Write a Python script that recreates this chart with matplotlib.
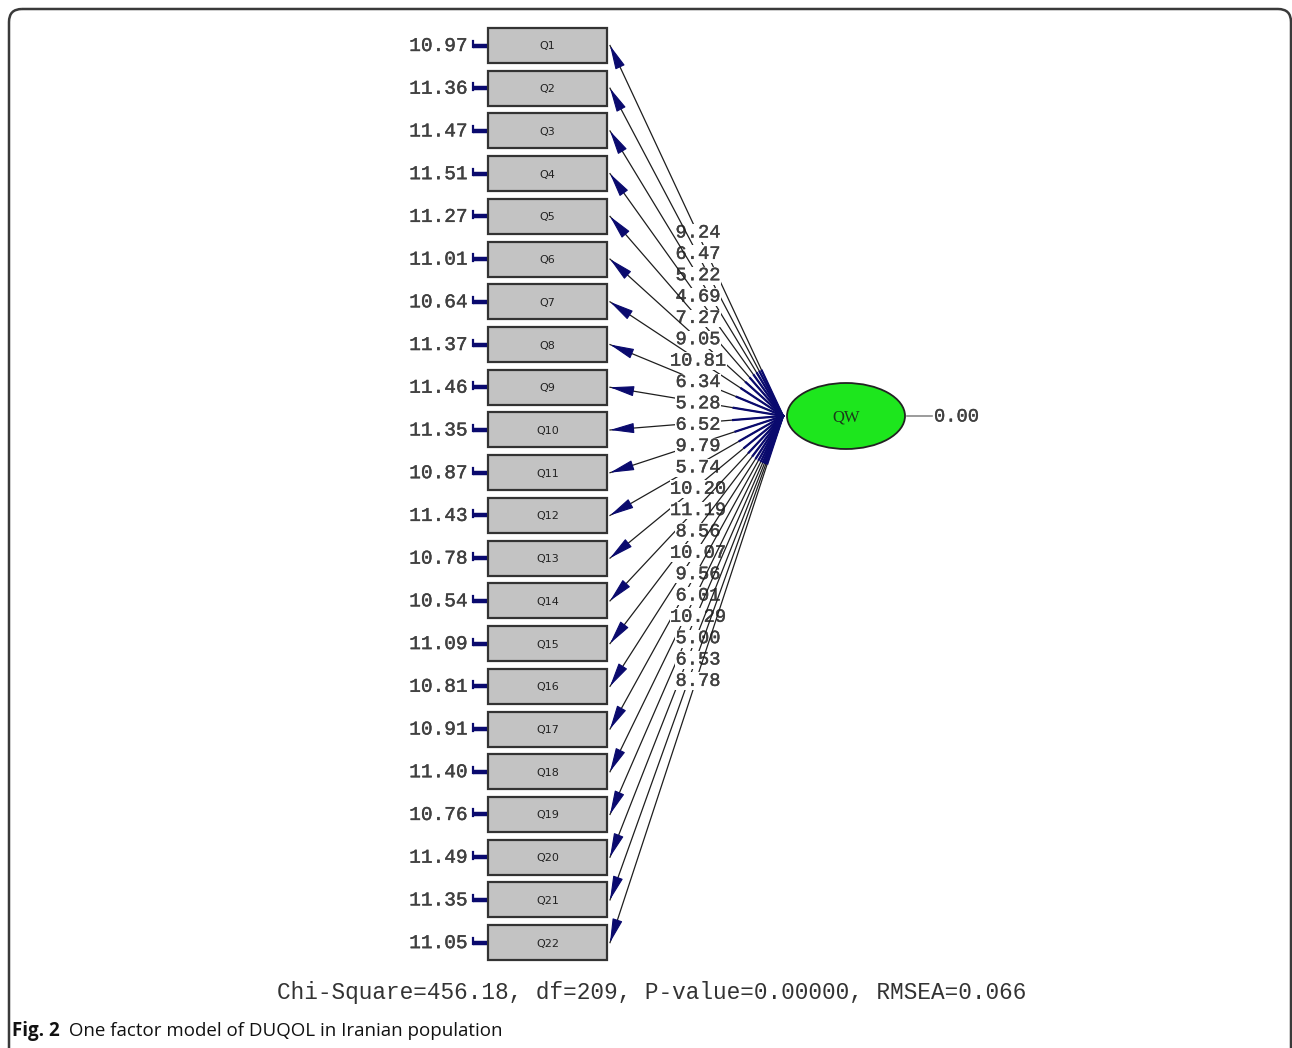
import matplotlib
matplotlib.use("Agg")
import matplotlib.pyplot as plt
import matplotlib.patheffects as pe
from matplotlib.patches import Rectangle, Ellipse, FancyBboxPatch
import numpy as np

# Observed indicators of the single latent factor
items = [f"Q{i}" for i in range(1, 23)]
error_variances = [10.97, 11.36, 11.47, 11.51, 11.27, 11.01, 10.64, 11.37, 11.46, 11.35, 10.87,
                   11.43, 10.78, 10.54, 11.09, 10.81, 10.91, 11.40, 10.76, 11.49, 11.35, 11.05]
loadings = [9.24, 6.47, 5.22, 4.69, 7.27, 9.05, 10.81, 6.34, 5.28, 6.52, 9.79,
            5.74, 10.20, 11.19, 8.56, 10.07, 9.56, 6.01, 10.29, 5.00, 6.53, 8.78]
factor_name = "QW"
factor_variance = 0.00
fit_stats = "Chi-Square=456.18, df=209, P-value=0.00000, RMSEA=0.066"
caption_bold = "Fig. 2"
caption_text = " One factor model of DUQOL in Iranian population"

W, H = 1292, 1048
fig = plt.figure(figsize=(W / 100, H / 100), dpi=100)
ax = fig.add_axes([0, 0, 1, 1])
ax.set_xlim(0, W)
ax.set_ylim(H, 0)
ax.axis("off")

navy = "#0a0a6e"
ink = "#404040"
mono = "Liberation Mono"
medium = [pe.withStroke(linewidth=0.3, foreground=ink)]

# page frame with rounded top corners (open at the bottom)
frame = FancyBboxPatch((9, 9), W - 10, H + 40, boxstyle="round,pad=0,rounding_size=13",
                       fill=False, lw=1.8, ec="#3a3a3a", zorder=1)
ax.add_patch(frame)

# layout of the indicator column
box_x0, box_x1 = 488, 607
box_h = 35
top0, step = 28, 42.72
centers = [top0 + box_h / 2 + i * step for i in range(len(items))]

# latent factor
fx, fy = 846, 416
fw, fh = 118, 66
apex = (783, fy)

# loading labels column
lab_x = 698
lab_y0, lab_step = 233, 21.35

zo = 5
for i, (cy, lam) in enumerate(zip(centers, loadings)):
    tip = (box_x1 + 3, cy)
    ax.plot([apex[0], tip[0]], [apex[1], tip[1]], color="#1e1e1e", lw=0.9, zorder=zo)
    # arrowhead onto the indicator
    ax.annotate("", xy=tip, xytext=(tip[0] + (apex[0] - tip[0]) * 0.04,
                                    tip[1] + (apex[1] - tip[1]) * 0.04),
                arrowprops=dict(arrowstyle="-|>,head_length=1.5,head_width=0.32",
                                color=navy, lw=0.8, shrinkA=0, shrinkB=0),
                zorder=zo + 1)
    ax.text(lab_x, lab_y0 + i * lab_step, f"{lam:.2f}", family=mono, fontsize=13.5,
            color=ink, ha="center", va="center", zorder=zo + 1, path_effects=medium,
            bbox=dict(boxstyle="square,pad=0.02", fc="white", ec="none"))
    zo += 2

# dense navy fan where the paths leave the factor
for cy in centers:
    d = np.array([box_x1 + 3 - apex[0], cy - apex[1]])
    d = d / np.hypot(*d)
    end = np.array(apex) + d * 50
    ax.plot([apex[0], end[0]], [apex[1], end[1]], color=navy, lw=1.6, zorder=zo)
zo += 1

# indicator boxes, error variances and their short arrows
for i, (name, cy, ev) in enumerate(zip(items, centers, error_variances)):
    ax.add_patch(Rectangle((box_x0, cy - box_h / 2), box_x1 - box_x0, box_h,
                           fc="#c3c3c3", ec="#333333", lw=1.6, zorder=zo))
    ax.text((box_x0 + box_x1) / 2, cy + 1, name, fontsize=8, color="#222222",
            ha="center", va="center", zorder=zo + 1)
    ax.text(468, cy + 1, f"{ev:.2f}", family=mono, fontsize=14, path_effects=medium,
            color=ink, ha="right", va="center", zorder=zo + 1)
    ax.plot([473, box_x0 - 1], [cy, cy], color=navy, lw=3.2, solid_capstyle="butt",
            zorder=zo + 1)
    ax.plot([473, 473], [cy - 5, cy + 1.5], color=navy, lw=1.6, zorder=zo + 1)

# latent factor ellipse and its variance
ax.add_patch(Ellipse((fx, fy), fw, fh, fc="#1de61d", ec="#222222", lw=1.3, zorder=zo + 2))
ax.text(fx, fy + 1, factor_name, family="Liberation Serif", fontsize=12, color="#1a3a1a",
        ha="center", va="center", zorder=zo + 3)
ax.plot([fx + fw / 2 + 2, fx + fw / 2 + 27], [fy, fy], color="#8a8a8a", lw=1.2, zorder=zo + 2)
ax.text(934, fy + 1, f"{factor_variance:.2f}", family=mono, fontsize=13.5, path_effects=medium,
        color=ink, ha="left", va="center", zorder=zo + 3)

# fit statistics and figure caption
ax.text(652, 993, fit_stats, family=mono, fontsize=16.4, color="#333333",
        ha="center", va="center", zorder=zo + 3)
cap_font = ["Liberation Sans Narrow", "Open Sans"]
t = ax.text(12, 1031, caption_bold, family=cap_font,
            fontsize=13.5, fontweight="bold", color="#111111", ha="left", va="center")
fig.canvas.draw()
bb = t.get_window_extent()
ax.text(16 + bb.width, 1031, caption_text, family=cap_font,
        fontsize=13.5, color="#111111", ha="left", va="center")

fig.savefig("out.png", dpi=100)
